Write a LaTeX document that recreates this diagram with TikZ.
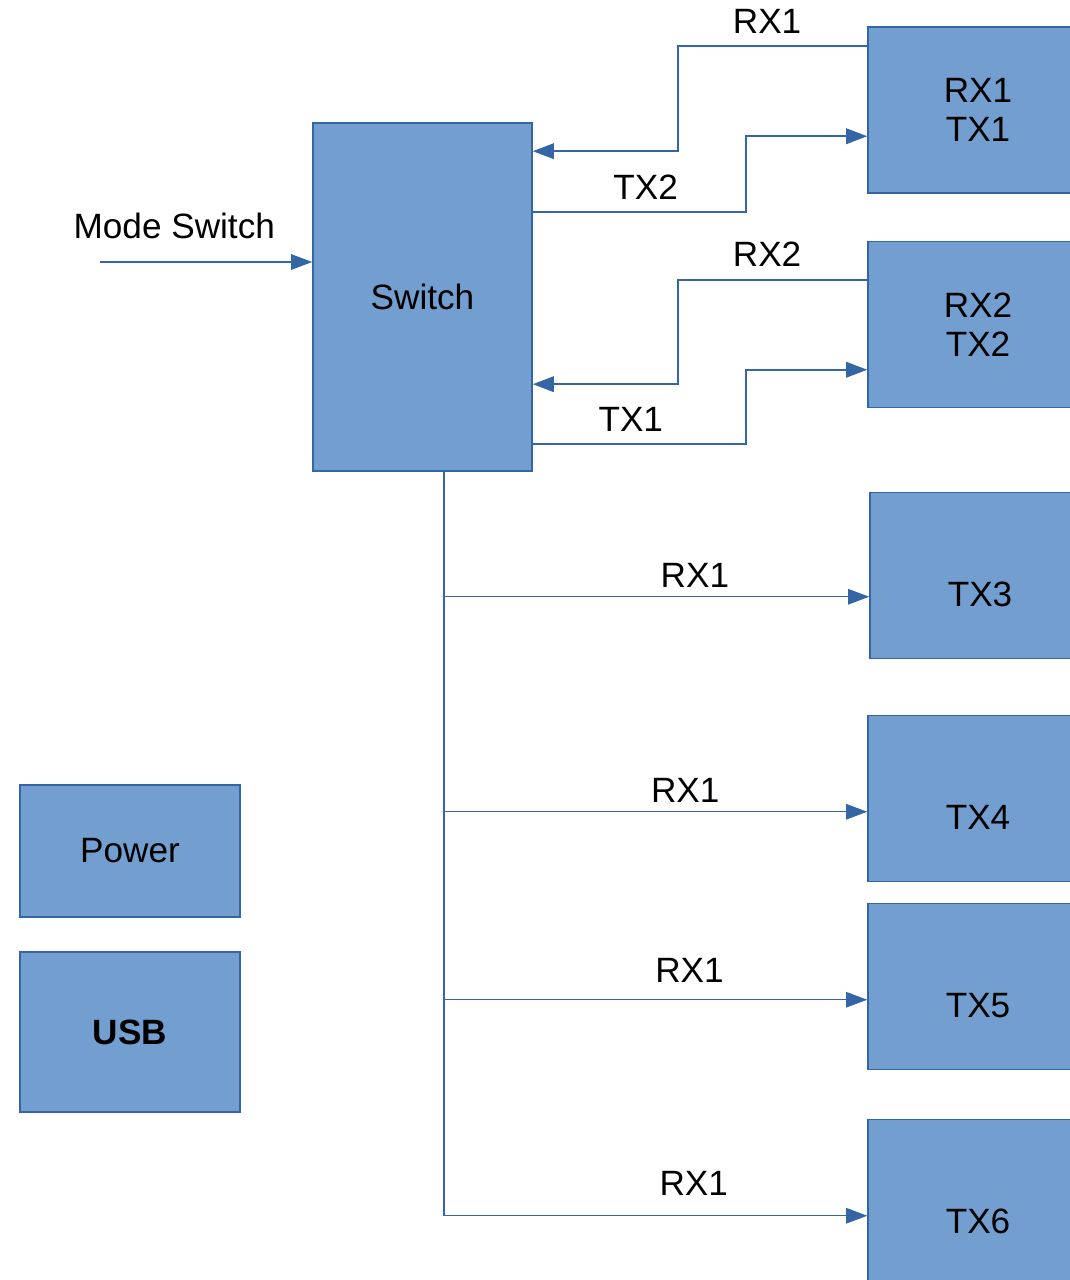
\documentclass[tikz,border=0pt]{standalone}
\usepackage{fontspec}
\setmainfont{Liberation Sans}
\usepackage{tikz}
\usetikzlibrary{arrows.meta,calc}
\definecolor{boxfill}{HTML}{729FCF}
\definecolor{boxline}{HTML}{3465A4}

\begin{document}
\begin{tikzpicture}[x=0.01cm, y=-0.01cm,
	font=\fontsize{10}{11}\selectfont,
	block/.style={rectangle, draw=boxline, fill=boxfill, inner sep=0pt, align=center, minimum width=2.2cm, minimum height=1.66cm},
	link/.style={draw=boxline, line width=0.6pt, -{Triangle[length=6pt, width=4.4pt]}},
	tap/.style={draw=boxline, line width=0.35pt, -{Triangle[length=6pt, width=4.4pt]}}]
	\useasboundingbox (0,0) rectangle (1069,1280);
	\node[block, minimum width=2.19cm, minimum height=3.48cm] (switch) at (422.5,297) {Switch};
	\node[block] (rxtx1) at (978,110) {RX1\\TX1};
	\node[block] (rxtx2) at (978,324.5) {RX2\\TX2};
	\node[block] (tx3) at (980,575.5) {\phantom{RX1}\\TX3};
	\node[block] (tx4) at (978,798.5) {\phantom{RX1}\\TX4};
	\node[block] (tx5) at (978,986.5) {\phantom{RX1}\\TX5};
	\node[block] (tx6) at (978,1202.5) {\phantom{RX1}\\TX6};
	\node[block, minimum height=1.32cm] (power) at (130,851) {Power};
	\node[block, minimum height=1.6cm] (usb) at (130,1032) {\textbf{USB}};
	\coordinate (mode) at (100,262);
	\coordinate (bus) at ($(switch.south)+(21.5,0)$);
	\draw[link] ($(rxtx1.north west)+(0,20)$) -- node[above, pos=0.53] {RX1} ++(-189,0) |- ($(switch.north east)+(0,29)$);
	\draw[link] ($(switch.north east)+(0,90)$) -- node[above, pos=0.53] {TX2} ++(213,0) |- ($(rxtx1.north west)+(0,110)$);
	\draw[link] ($(rxtx2.north west)+(0,39)$) -- node[above, pos=0.53] {RX2} ++(-189,0) |- ($(switch.north east)+(0,262)$);
	\draw[link] ($(switch.north east)+(0,322)$) -- node[above, pos=0.46] {TX1} ++(213,0) |- ($(rxtx2.north west)+(0,129)$);
	\draw[tap] (mode) -- node[above, pos=0.35, yshift=3pt] {Mode Switch} (mode -| switch.west);
	\foreach \t/\dy in {tx3/105, tx4/97, tx5/97, tx6/97}
		\coordinate (in\t) at ($(\t.north west)+(0,\dy)$);
	\draw[boxline, line width=0.35pt] (bus) -- (bus |- intx6);
	\foreach \t/\p/\s in {tx3/0.59/-0.8, tx4/0.57/-0.8, tx5/0.58/1.4, tx6/0.59/2.2}
		\draw[tap] (bus |- in\t) -- node[above, pos=\p, yshift=\s pt] {RX1} (in\t);
\end{tikzpicture}
\end{document}
